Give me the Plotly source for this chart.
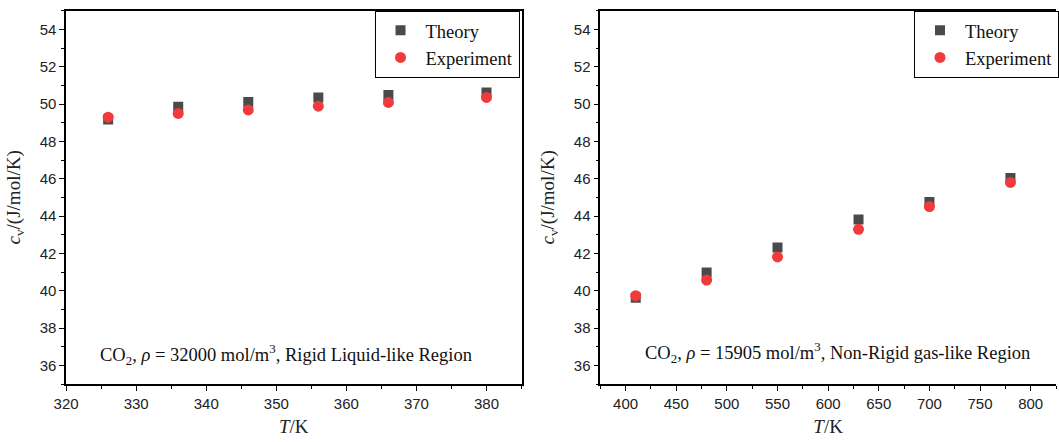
import plotly.graph_objects as go

# Left panel data (rigid liquid-like region)
T_left = [326, 336, 346, 356, 366, 380]
theory_left = [49.18, 49.86, 50.11, 50.36, 50.49, 50.62]
exp_left = [49.30, 49.50, 49.69, 49.89, 50.09, 50.36]

# Right panel data (non-rigid gas-like region)
T_right = [410, 480, 550, 630, 700, 780]
theory_right = [39.62, 40.98, 42.31, 43.82, 44.76, 46.04]
exp_right = [39.73, 40.57, 41.81, 43.29, 44.51, 45.80]

label_left = "CO<sub>2</sub>, <i>ρ</i> = 32000 mol/m<sup>3</sup>, Rigid Liquid-like Region"
label_right = "CO<sub>2</sub>, <i>ρ</i> = 15905 mol/m<sup>3</sup>, Non-Rigid gas-like Region"

W, H = 1059, 442

def px(x, clamp=True):
    v = x / W
    return min(1.0, max(0.0, v)) if clamp else v

def py(y):
    return (H - y) / H

THEORY_COLOR = "#4a4a4a"
EXP_COLOR = "#f03a3c"
SERIF = "Liberation Serif"
SANS = "Liberation Sans"

fig = go.Figure()

def add_series(x, th, ex, xa, ya, leg):
    fig.add_trace(go.Scatter(x=x, y=th, mode="markers", name="Theory",
                             marker=dict(symbol="square", size=10, color=THEORY_COLOR),
                             xaxis=xa, yaxis=ya, legend=leg))
    fig.add_trace(go.Scatter(x=x, y=ex, mode="markers", name="Experiment",
                             marker=dict(symbol="circle", size=11, color=EXP_COLOR),
                             xaxis=xa, yaxis=ya, legend=leg))

add_series(T_left, theory_left, exp_left, "x", "y", "legend")
add_series(T_right, theory_right, exp_right, "x2", "y2", "legend2")

xl0, xl1 = px(66.3), px(523)
xr0, xr1 = px(602), 1.0
yd0, yd1 = py(384), py(10.8)

axis_common = dict(showline=True, linecolor="black", linewidth=1.5, ticks="outside",
                   ticklen=5, tickwidth=1.2, tickcolor="black", showgrid=False, zeroline=False,
                   automargin=False,
                   tickfont=dict(family=SANS, size=15, color="#222"))
title_font = dict(family=SERIF, size=19, color="#222")

fig.update_layout(
    width=W, height=H, margin=dict(l=0, r=0, t=0, b=0),
    plot_bgcolor="white", paper_bgcolor="white",
    xaxis=dict(domain=[xl0, xl1], range=[320, 385], dtick=10, tick0=320, mirror=True,
               minor=dict(dtick=5, tick0=320, ticks="outside", ticklen=3, tickcolor="black"),
               title=dict(text="<i>T</i>/K", font=title_font, standoff=9),
               anchor="y", **axis_common),
    yaxis=dict(domain=[yd0, yd1], range=[35, 55], dtick=2, tick0=36, mirror=True,
               minor=dict(dtick=1, tick0=35, ticks="outside", ticklen=3, tickcolor="black"),
               title=dict(text="<i>c</i><sub>v</sub>/(J/mol/K)", font=title_font, standoff=14),
               anchor="x", **axis_common),
    xaxis2=dict(domain=[xr0, xr1], range=[375, 825], dtick=50, tick0=400, mirror=True,
                minor=dict(dtick=25, tick0=375, ticks="outside", ticklen=3, tickcolor="black"),
                title=dict(text="<i>T</i>/K", font=title_font, standoff=9),
                anchor="y2", **axis_common),
    yaxis2=dict(domain=[yd0, yd1], range=[35, 55], dtick=2, tick0=36, mirror=False,
                minor=dict(dtick=1, tick0=35, ticks="outside", ticklen=3, tickcolor="black"),
                title=dict(text="<i>c</i><sub>v</sub>/(J/mol/K)", font=title_font, standoff=14),
                anchor="x2", **axis_common),
    legend=dict(x=px(521), y=yd1, xanchor="right", yanchor="top", bgcolor="white",
                bordercolor="black", borderwidth=1, font=dict(family=SERIF, size=18.5, color="#111"),
                tracegroupgap=0, itemsizing="trace", itemwidth=40),
    legend2=dict(x=px(1062, clamp=False), y=yd1, xanchor="right", yanchor="top", bgcolor="white",
                 bordercolor="black", borderwidth=1, font=dict(family=SERIF, size=18.5, color="#111"),
                 tracegroupgap=0, itemsizing="trace", itemwidth=40),
    annotations=[
        dict(text=label_left, x=px(287), y=py(354), xref="paper", yref="paper",
             xanchor="center", yanchor="middle",
             showarrow=False, font=dict(family=SERIF, size=18.5, color="#111")),
        dict(text=label_right, x=px(839.5), y=py(352), xref="paper", yref="paper",
             xanchor="center", yanchor="middle",
             showarrow=False, font=dict(family=SERIF, size=18.5, color="#111")),
    ],
)

# remove the default page margin so the figure fills the window exactly
fig.write_html("out.html", config={"displayModeBar": False},
               post_script="document.body.style.margin='0';document.body.style.overflow='hidden';")
